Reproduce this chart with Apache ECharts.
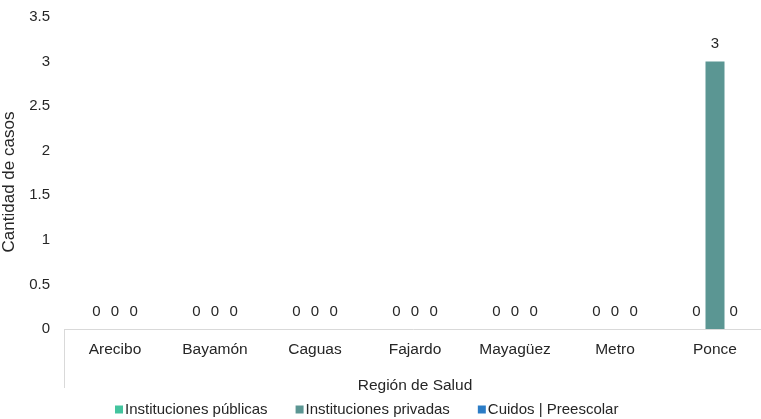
<!DOCTYPE html>
<html><head><meta charset="utf-8">
<script src="https://cdn.jsdelivr.net/npm/echarts@6/dist/echarts.min.js"></script>
<style>html,body{margin:0;padding:0;background:#fff}#c{width:761px;height:419px}</style>
</head><body><div id="c"></div>
<script>
const categories = ['Arecibo','Bayamón','Caguas','Fajardo','Mayagüez','Metro','Ponce'];
const publicas = [0,0,0,0,0,0,0];
const privadas = [0,0,0,0,0,0,3];
const cuidos = [0,0,0,0,0,0,0];
const seriesNames = ['Instituciones públicas','Instituciones privadas','Cuidos | Preescolar'];
const colors = ['#43c49e','#5b9693','#2b7cc6'];
const font = 'Liberation Sans, Arial, sans-serif';
const fs = 15;
const chart = echarts.init(document.getElementById('c'));
const mk = (name, data, color) => ({
  name, type:'bar', data, barWidth:19, barGap:'-2%',
  itemStyle:{color},
  label:{show:true, position:'top', distance:10, color:'#262626', fontSize:fs, fontFamily:font}
});
chart.setOption({
  animation:false,
  textStyle:{fontFamily:font},
  grid:{left:65, right:-4, top:17, bottom:90, containLabel:false, outerBoundsMode:'none'},
  legend:{top:397, left:110, itemWidth:8, itemHeight:8, itemGap:28, icon:'rect',
    textStyle:{fontSize:fs, color:'#262626', fontFamily:font, padding:[0,0,0,-3]}, data:seriesNames},
  xAxis:{type:'category', data:categories,
    axisLine:{lineStyle:{color:'#d9d9d9', width:1}}, axisTick:{show:false},
    axisLabel:{color:'#262626', fontSize:15.5, margin:13, fontFamily:font},
    name:'Región de Salud', nameLocation:'middle', nameGap:49,
    nameTextStyle:{color:'#262626', fontSize:15.5, fontFamily:font}},
  yAxis:{type:'value', min:0, max:3.5, interval:0.5,
    splitLine:{show:false}, axisLine:{show:false}, axisTick:{show:false},
    axisLabel:{color:'#262626', fontSize:fs, margin:15, fontFamily:font},
    name:'Cantidad de casos', nameLocation:'middle', nameGap:43, nameRotate:90,
    nameTextStyle:{color:'#262626', fontSize:17, fontFamily:font, padding:[0,18,0,0]}},
  series:[mk(seriesNames[0],publicas,colors[0]), mk(seriesNames[1],privadas,colors[1]), mk(seriesNames[2],cuidos,colors[2])]
});
const p0 = chart.convertToPixel({gridIndex:0}, [0,0]);
const gx = 65 - 0.5;
chart.setOption({graphic:[{type:'line', shape:{x1:gx, y1:p0[1], x2:gx, y2:p0[1]+59}, style:{stroke:'#d9d9d9', lineWidth:1}}]});
</script></body></html>
